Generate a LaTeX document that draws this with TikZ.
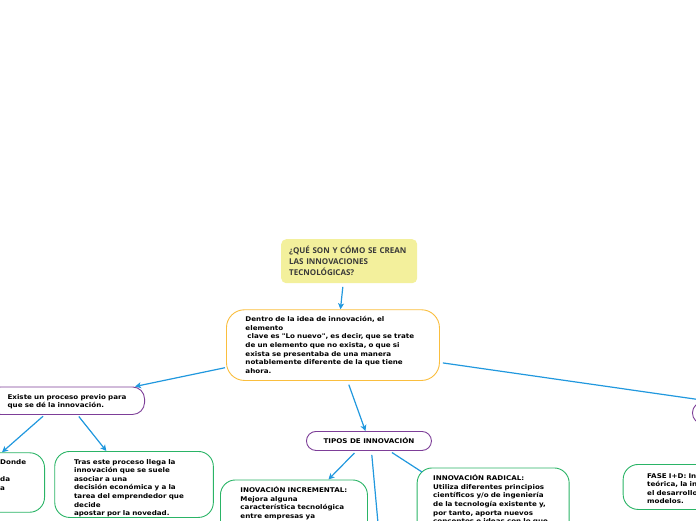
\documentclass[tikz,border=0pt]{standalone}
\usepackage{fontspec}
\setmainfont{DejaVu Sans}
\newfontfamily\titlefont{Open Sans}
\newfontfamily\boxfont{DejaVu Sans}[FakeStretch=1.1]
\usetikzlibrary{positioning,arrows.meta,calc}

\definecolor{linkblue}{RGB}{33,152,222}
\definecolor{topicpurple}{RGB}{125,62,152}
\definecolor{leafgreen}{RGB}{42,180,102}
\definecolor{mainorange}{RGB}{250,190,62}
\definecolor{titleyellow}{RGB}{243,240,156}
\definecolor{titletext}{RGB}{58,58,58}

\begin{document}
\begin{tikzpicture}[
        x=1pt, y=-1pt,
        >={Stealth[length=6pt,width=6pt,inset=1.5pt]},
        txt/.style  ={font=\boxfont\fontsize{6.5}{8.6}\selectfont\bfseries},
        box/.style  ={txt, draw, line width=0.9pt, fill=white, align=left,
                      inner ysep=0pt, anchor=north west},
        topic/.style={box, draw=topicpurple, rounded corners=12pt},
        leaf/.style ={box, draw=leafgreen, rounded corners=15pt},
        link/.style ={->, draw=linkblue, line width=1.2pt},
    ]
    \useasboundingbox (0,0) rectangle (696,520);
    \clip (0,0) rectangle (696,520);

    % ===================== Title and central idea =====================
    \node[fill=titleyellow, rounded corners=5pt, anchor=north west, align=left,
          font=\titlefont\fontsize{8}{10.8}\selectfont\bfseries, text=titletext,
          inner xsep=8pt, inner ysep=0pt, text width=120pt, minimum width=136pt,
          text height=14.4pt, text depth=29.6pt] (title) at (281,239)
        {¿QUÉ SON Y CÓMO SE CREAN\\LAS INNOVACIONES\\TECNOLÓGICAS?};

    \node[box, draw=mainorange, rounded corners=18pt, inner xsep=19pt,
          text width=175pt, text height=12pt, text depth=58.7pt] (main) at (226,309.3)
        {Dentro de la idea de innovación, el\\elemento\\
         \hspace*{0.3em}clave es "Lo nuevo", es decir, que se trate\\
         de un elemento que no exista, o que si\\
         exista se presentaba de una manera\\
         notablemente diferente de la que tiene\\ahora.};

    % ===================== Left branch =====================
    \node[topic, anchor=north east, inner xsep=19pt, text width=118pt,
          text height=12.1pt, text depth=15.4pt] (proc) at (145,386.5)
        {\mbox{Existe un proceso previo para}\\\mbox{que se dé la innovación.}};

    \node[leaf, anchor=north east, minimum width=150pt, minimum height=59.5pt,
          inner sep=0pt] (lbox) at (45,452.3) {};
    \node[txt, anchor=north west, align=left, inner sep=0pt] (ltxt) at (0,459.6)
        {Donde\\\mbox{}\\da\\a};

    \node[leaf, inner xsep=19.3pt, text width=120pt,
          text height=12.6pt, text depth=53.4pt] (tras) at (54.3,451)
        {Tras este proceso llega la\\innovación que se suele\\asociar a una\\
         decisión económica y a la\\tarea del emprendedor que\\decide\\
         apostar por la novedad.};

    % ===================== Types of innovation =====================
    \node[topic, rounded corners=9.5pt, align=center, inner sep=0pt,
          minimum width=125pt, minimum height=19pt] (tipos) at (306,431)
        {TIPOS DE INNOVACIÓN};

    \node[leaf, inner xsep=20pt, text width=107pt,
          text height=12.8pt, text depth=60pt] (incr) at (220,479.5)
        {INOVACIÓN INCREMENTAL:\\Mejora alguna\\característica tecnológica\\
         entre empresas ya};

    \node[leaf, inner xsep=16pt, text width=120pt,
          text height=12.8pt, text depth=60pt] (radical) at (416.7,467.5)
        {INNOVACIÓN RADICAL:\\Utiliza diferentes principios\\
         científicos y/o de ingeniería\\de la tecnología existente y,\\
         por tanto, aporta nuevos\\conceptos e ideas con lo que};

    \coordinate (down) at (380,545);

    % ===================== Right branch =====================
    \node[topic, rounded corners=11pt, inner sep=0pt,
          minimum width=60pt, minimum height=22pt] (rbox) at (692,401.5) {};

    \node[leaf, inner xsep=24pt, text width=100pt,
          text height=13.6pt, text depth=31.4pt] (fase) at (622.7,464)
        {FASE I+D: In\\teórica, la in\\el desarrollo\\modelos.};

    % ===================== Connectors =====================
    \draw[link, shorten <=3.5pt] ([xshift=-6pt]title.south) -- ([xshift=7.5pt]main.north);
    \draw[link, shorten <=1pt] ([yshift=-22.4pt]main.west) -- ([xshift=-10pt]proc.north east);
    \draw[link, shorten <=2pt] ([xshift=-22pt]proc.south) -- ([xshift=-43pt]lbox.north east);
    \draw[link, shorten <=2pt] ([xshift=11pt]proc.south) -- ([xshift=-27.7pt]tras.north);
    \draw[link, shorten <=4pt] ([xshift=14.5pt]main.south) -- ([xshift=-3.5pt]tipos.north);
    \draw[link, shorten <=3pt] ([xshift=-12.5pt]tipos.south) -- ([xshift=34.5pt]incr.north);
    \draw[draw=linkblue, line width=1.2pt, shorten <=4pt] ([xshift=2.5pt]tipos.south) -- (down);
    \draw[draw=linkblue, line width=1.2pt, shorten <=3pt] ([xshift=20.5pt]tipos.south)
        -- ([xshift=5.3pt,yshift=-4.5pt]radical.north west);
    \draw[link, shorten <=3pt] ([yshift=-17.4pt]main.east) -- ([xshift=20pt]rbox.north west);
\end{tikzpicture}
\end{document}
